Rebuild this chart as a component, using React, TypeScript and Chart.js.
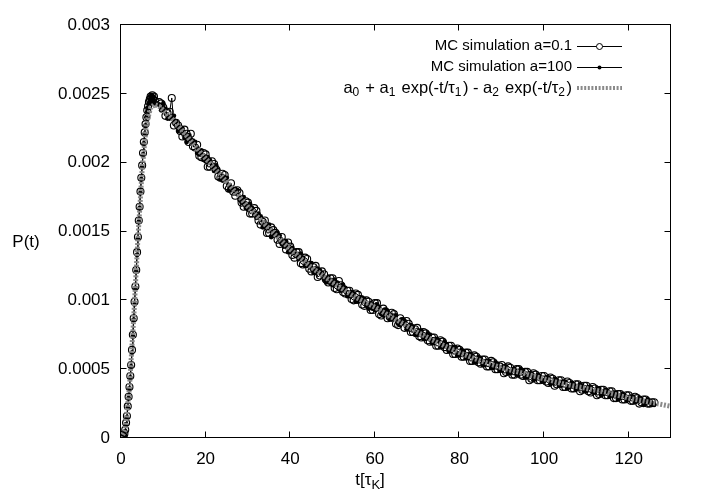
import React, { useEffect, useRef } from 'react';
import { Chart, registerables } from 'chart.js';

Chart.register(...registerables);

const FONT = "'Liberation Sans', Arial, Helvetica, sans-serif";

// time grid (t in units of tau_K)
const riseTimes = [0, 0.2, 0.4, 0.6, 0.8, 1, 1.2, 1.4, 1.6, 1.8, 2, 2.2, 2.4, 2.6, 2.8, 3, 3.2, 3.4, 3.6, 3.8, 4, 4.2, 4.4, 4.6, 4.8, 5, 5.2, 5.4, 5.6, 5.8, 6, 6.2, 6.4, 6.6, 6.8, 7, 7.2, 7.4, 7.6, 7.8, 8];
const decayTimes = [9, 10, 11, 12, 13, 14, 15, 16, 17, 18, 19, 20, 21, 22, 23, 24, 25, 26, 27, 28, 29, 30, 31, 32, 33, 34, 35, 36, 37, 38, 39, 40, 41, 42, 43, 44, 45, 46, 47, 48, 49, 50, 51, 52, 53, 54, 55, 56, 57, 58, 59, 60, 61, 62, 63, 64, 65, 66, 67, 68, 69, 70, 71, 72, 73, 74, 75, 76, 77, 78, 79, 80, 81, 82, 83, 84, 85, 86, 87, 88, 89, 90, 91, 92, 93, 94, 95, 96, 97, 98, 99, 100, 101, 102, 103, 104, 105, 106, 107, 108, 109, 110, 111, 112, 113, 114, 115, 116, 117, 118, 119, 120, 121, 122, 123, 124, 125, 126];
const decayHalfTimes = [9.5, 10.5, 11.5, 12.5, 13.5, 14.5, 15.5, 16.5, 17.5, 18.5, 19.5, 20.5, 21.5, 22.5, 23.5, 24.5, 25.5, 26.5, 27.5, 28.5, 29.5, 30.5, 31.5, 32.5, 33.5, 34.5, 35.5, 36.5, 37.5, 38.5, 39.5, 40.5, 41.5, 42.5, 43.5, 44.5, 45.5, 46.5, 47.5, 48.5, 49.5, 50.5, 51.5, 52.5, 53.5, 54.5, 55.5, 56.5, 57.5, 58.5, 59.5, 60.5, 61.5, 62.5, 63.5, 64.5, 65.5, 66.5, 67.5, 68.5, 69.5, 70.5, 71.5, 72.5, 73.5, 74.5, 75.5, 76.5, 77.5, 78.5, 79.5, 80.5, 81.5, 82.5, 83.5, 84.5, 85.5, 86.5, 87.5, 88.5, 89.5, 90.5, 91.5, 92.5, 93.5, 94.5, 95.5, 96.5, 97.5, 98.5, 99.5, 100.5, 101.5, 102.5, 103.5, 104.5, 105.5, 106.5, 107.5, 108.5, 109.5, 110.5, 111.5, 112.5, 113.5, 114.5, 115.5, 116.5, 117.5, 118.5, 119.5, 120.5, 121.5, 122.5, 123.5, 124.5, 125.5];

// MC simulation a=0.1
const a01Rise = [0, 0, 0, 0.00001, 0.00003, 0.00006, 0.00011, 0.00016, 0.00023, 0.0003, 0.00037, 0.00045, 0.00053, 0.00064, 0.00075, 0.00087, 0.00099, 0.0011, 0.00122, 0.00135, 0.00146, 0.00158, 0.00168, 0.00179, 0.00189, 0.00198, 0.00207, 0.00215, 0.00222, 0.00228, 0.00233, 0.00238, 0.00241, 0.00244, 0.00246, 0.00248, 0.00247, 0.00249, 0.00246, 0.00248, 0.00245];
const a01Decay = [
  0.00244, 0.00240, 0.00236, 0.00247, 0.00229, 0.00223, 0.00224, 0.00215, 0.00212, 0.00213,
  0.00204, 0.00206, 0.00197, 0.00199, 0.00190, 0.00192, 0.00183, 0.00185, 0.00176, 0.00178,
  0.00168, 0.00171, 0.00163, 0.00165, 0.00155, 0.00158, 0.00149, 0.00151, 0.00144, 0.00146,
  0.00137, 0.00139, 0.00131, 0.00135, 0.00126, 0.00130, 0.00121, 0.00125, 0.00118, 0.00119,
  0.00113, 0.00116, 0.00108, 0.00111, 0.00105, 0.00107, 0.00100, 0.00104, 0.00097, 0.00100,
  0.00093, 0.00098, 0.00090, 0.00094, 0.00087, 0.00091, 0.00083, 0.00087, 0.00080, 0.00083,
  0.00077, 0.00080, 0.00073, 0.00076, 0.00070, 0.00073, 0.00067, 0.00070, 0.00064, 0.00067,
  0.00061, 0.00064, 0.00059, 0.00062, 0.00056, 0.00059, 0.00054, 0.00057, 0.00052, 0.00055,
  0.00050, 0.00053, 0.00048, 0.00051, 0.00046, 0.00050, 0.00045, 0.00048, 0.00043, 0.00046,
  0.00042, 0.00045, 0.00040, 0.00043, 0.00039, 0.00042, 0.00037, 0.00040, 0.00036, 0.00039,
  0.00035, 0.00038, 0.00033, 0.00036, 0.00032, 0.00035, 0.00031, 0.00034, 0.00029, 0.00032,
  0.00028, 0.00031, 0.00027, 0.00029, 0.00026, 0.00028, 0.00025, 0.00026
];
const a01DecayHalf = [
  0.00243, 0.00234, 0.00237, 0.00227, 0.00227, 0.00219, 0.00221, 0.00221, 0.00211, 0.00205,
  0.00207, 0.00197, 0.00201, 0.00195, 0.00189, 0.00191, 0.00181, 0.00179, 0.00180, 0.00171,
  0.00172, 0.00163, 0.00167, 0.00158, 0.00157, 0.00149, 0.00153, 0.00149, 0.00141, 0.00142,
  0.00142, 0.00133, 0.00135, 0.00127, 0.00131, 0.00123, 0.00124, 0.00117, 0.00121, 0.00115,
  0.00116, 0.00109, 0.00114, 0.00106, 0.00107, 0.00101, 0.00105, 0.00101, 0.00096, 0.00099,
  0.00093, 0.00098, 0.00089, 0.00092, 0.00088, 0.00090, 0.00082, 0.00085, 0.00085, 0.00077,
  0.00079, 0.00074, 0.00077, 0.00071, 0.00073, 0.00067, 0.00071, 0.00066, 0.00067, 0.00061,
  0.00065, 0.00059, 0.00062, 0.00056, 0.00060, 0.00055, 0.00057, 0.00052, 0.00056, 0.00050,
  0.00052, 0.00047, 0.00052, 0.00046, 0.00050, 0.00046, 0.00048, 0.00042, 0.00047, 0.00042,
  0.00045, 0.00041, 0.00044, 0.00038, 0.00042, 0.00037, 0.00041, 0.00036, 0.00039, 0.00034,
  0.00038, 0.00034, 0.00037, 0.00031, 0.00035, 0.00031, 0.00034, 0.00029, 0.00032, 0.00028,
  0.00031, 0.00027, 0.00030, 0.00025, 0.00028, 0.00025, 0.00026
];

// MC simulation a=100
const a100Rise = [0, 0, 0, 0.00001, 0.00002, 0.00005, 0.0001, 0.00015, 0.00022, 0.00029, 0.00036, 0.00044, 0.00052, 0.00062, 0.00074, 0.00086, 0.00097, 0.00109, 0.00121, 0.00133, 0.00145, 0.00157, 0.00167, 0.00178, 0.00188, 0.00197, 0.00206, 0.00214, 0.00221, 0.00227, 0.00233, 0.00237, 0.00240, 0.00243, 0.00245, 0.00247, 0.00249, 0.00246, 0.00248, 0.00244, 0.00243];
const a100Decay = [
  0.00242, 0.00243, 0.00232, 0.00233, 0.00230, 0.00226, 0.00218, 0.00220, 0.00216, 0.00207,
  0.00209, 0.00201, 0.00202, 0.00194, 0.00195, 0.00187, 0.00189, 0.00180, 0.00181, 0.00173,
  0.00175, 0.00166, 0.00167, 0.00160, 0.00161, 0.00153, 0.00155, 0.00147, 0.00149, 0.00141,
  0.00143, 0.00135, 0.00136, 0.00130, 0.00131, 0.00125, 0.00127, 0.00120, 0.00122, 0.00115,
  0.00117, 0.00111, 0.00113, 0.00107, 0.00109, 0.00103, 0.00105, 0.00099, 0.00102, 0.00096,
  0.00098, 0.00093, 0.00095, 0.00089, 0.00092, 0.00086, 0.00089, 0.00082, 0.00085, 0.00079,
  0.00081, 0.00075, 0.00078, 0.00072, 0.00075, 0.00069, 0.00071, 0.00066, 0.00068, 0.00063,
  0.00066, 0.00060, 0.00063, 0.00058, 0.00060, 0.00055, 0.00058, 0.00053, 0.00056, 0.00051,
  0.00054, 0.00049, 0.00052, 0.00047, 0.00050, 0.00046, 0.00049, 0.00044, 0.00047, 0.00043,
  0.00045, 0.00041, 0.00044, 0.00040, 0.00042, 0.00038, 0.00041, 0.00037, 0.00039, 0.00036,
  0.00038, 0.00034, 0.00037, 0.00033, 0.00036, 0.00032, 0.00034, 0.00031, 0.00033, 0.00029,
  0.00031, 0.00028, 0.00030, 0.00027, 0.00028, 0.00025, 0.00027, 0.00024
];
const a100DecayHalf = [
  0.00238, 0.00239, 0.00232, 0.00234, 0.00223, 0.00225, 0.00215, 0.00217, 0.00215, 0.00206,
  0.00202, 0.00204, 0.00197, 0.00198, 0.00188, 0.00189, 0.00180, 0.00181, 0.00180, 0.00171,
  0.00167, 0.00170, 0.00162, 0.00163, 0.00153, 0.00155, 0.00146, 0.00149, 0.00147, 0.00139,
  0.00135, 0.00138, 0.00132, 0.00134, 0.00125, 0.00127, 0.00120, 0.00123, 0.00120, 0.00113,
  0.00112, 0.00115, 0.00108, 0.00111, 0.00103, 0.00106, 0.00099, 0.00102, 0.00101, 0.00094,
  0.00094, 0.00097, 0.00090, 0.00093, 0.00086, 0.00088, 0.00083, 0.00086, 0.00079, 0.00082,
  0.00075, 0.00078, 0.00072, 0.00076, 0.00069, 0.00072, 0.00066, 0.00070, 0.00063, 0.00066,
  0.00060, 0.00064, 0.00058, 0.00061, 0.00055, 0.00059, 0.00053, 0.00056, 0.00051, 0.00055,
  0.00049, 0.00052, 0.00047, 0.00050, 0.00046, 0.00050, 0.00044, 0.00047, 0.00042, 0.00046,
  0.00041, 0.00044, 0.00039, 0.00043, 0.00038, 0.00041, 0.00036, 0.00040, 0.00035, 0.00039,
  0.00034, 0.00037, 0.00033, 0.00036, 0.00031, 0.00035, 0.00030, 0.00033, 0.00028, 0.00032,
  0.00027, 0.00030, 0.00026, 0.00029, 0.00024, 0.00028, 0.00024
];

// fitted curve a0 + a1 exp(-t/tau1) - a2 exp(-t/tau2)
const fitTimes = [0, 1, 2, 3, 4, 5, 6, 7, 8, 9, 10, 12, 14, 17, 20, 25, 30, 35, 40, 45, 50, 55, 60, 65, 70, 75, 80, 85, 90, 95, 100, 105, 110, 115, 120, 125, 130];
const fitValues = [0, 0.00006, 0.00037, 0.00087, 0.00145, 0.00195, 0.00228, 0.0024, 0.00242, 0.00241, 0.00238, 0.00232, 0.00225, 0.00214, 0.00203, 0.00186, 0.00168, 0.00152, 0.00137, 0.00124, 0.00113, 0.00103, 0.00095, 0.00086, 0.00077, 0.00069, 0.00062, 0.00056, 0.00051, 0.00047, 0.00043, 0.00039, 0.00036, 0.00033, 0.00029, 0.00026, 0.00023];

const xTickValues = [0, 20, 40, 60, 80, 100, 120];
const xTickLabels = ['0', '20', '40', '60', '80', '100', '120'];
const yTickValues = [0, 0.0005, 0.001, 0.0015, 0.002, 0.0025, 0.003];
const yTickLabels = ['0', '0.0005', '0.001', '0.0015', '0.002', '0.0025', '0.003'];

type Part = { text: string; sub?: boolean };
const legendA01: Part[] = [{ text: 'MC simulation a=0.1' }];
const legendA100: Part[] = [{ text: 'MC simulation a=100' }];
const legendFit: Part[] = [
  { text: 'a' }, { text: '0', sub: true }, { text: ' + a' }, { text: '1', sub: true },
  { text: ' exp(-t/τ' }, { text: '1', sub: true }, { text: ') - a' }, { text: '2', sub: true },
  { text: ' exp(-t/τ' }, { text: '2', sub: true }, { text: ')' },
];
const xTitle: Part[] = [{ text: 't[τ' }, { text: 'K', sub: true }, { text: ']' }];
const yTitle: Part[] = [{ text: 'P(t)' }];

const TICK_FONT = 17;
const LEGEND_FONT = 15;
const FORMULA_FONT = 16.5;
const FIT_COLOR = '#8a8a8a';
const FIT_DASH = [2, 1.6];

function drawParts(ctx: CanvasRenderingContext2D, parts: Part[], x: number, y: number, align: 'left' | 'right' | 'center', size: number, subGap = 0) {
  const subSize = Math.round(size * 0.75);
  const widths = parts.map((p) => {
    ctx.font = `${p.sub ? subSize : size}px ${FONT}`;
    return ctx.measureText(p.text).width + (p.sub ? subGap : 0);
  });
  const total = widths.reduce((a, b) => a + b, 0);
  let cx = align === 'right' ? x - total : align === 'center' ? x - total / 2 : x;
  ctx.textAlign = 'left';
  ctx.textBaseline = 'middle';
  ctx.fillStyle = '#000';
  parts.forEach((p, i) => {
    ctx.font = `${p.sub ? subSize : size}px ${FONT}`;
    ctx.fillText(p.text, cx, p.sub ? y + size * 0.3 : y);
    cx += widths[i];
  });
}

const framePlugin = {
  id: 'gnuFrame',
  afterDatasetsDraw(chart: any) {
    const { ctx, chartArea } = chart;
    const { left, right, top, bottom } = chartArea;
    const xs = chart.scales.x;
    const ys = chart.scales.y;
    const L = left - 0.5, R = right - 0.5, T = top - 0.5, B = bottom - 0.5;
    ctx.save();
    ctx.strokeStyle = '#000';
    ctx.lineWidth = 1;
    ctx.setLineDash([]);
    ctx.strokeRect(L, T, R - L, B - T);
    const tl = 6;
    ctx.beginPath();
    xTickValues.forEach((v) => {
      const px = Math.round(xs.getPixelForValue(v)) - 0.5;
      ctx.moveTo(px, B); ctx.lineTo(px, B - tl);
      ctx.moveTo(px, T); ctx.lineTo(px, T + tl);
    });
    yTickValues.forEach((v) => {
      const py = Math.round(ys.getPixelForValue(v)) - 0.5;
      ctx.moveTo(L, py); ctx.lineTo(L + tl, py);
      ctx.moveTo(R, py); ctx.lineTo(R - tl, py);
    });
    ctx.stroke();

    // legend
    const textRight = 572;
    const sx0 = 577, sx1 = 622;
    const rows = [46, 67, 88];
    drawParts(ctx, legendA01, textRight, rows[0], 'right', LEGEND_FONT);
    drawParts(ctx, legendA100, textRight, rows[1], 'right', LEGEND_FONT);
    drawParts(ctx, legendFit, textRight, rows[2], 'right', FORMULA_FONT, 1.5);
    ctx.strokeStyle = '#000';
    ctx.lineWidth = 1;
    ctx.beginPath();
    ctx.moveTo(sx0, rows[0] + 0.5); ctx.lineTo(sx1, rows[0] + 0.5);
    ctx.moveTo(sx0, rows[1] + 0.5); ctx.lineTo(sx1, rows[1] + 0.5);
    ctx.stroke();
    const mid = (sx0 + sx1) / 2;
    ctx.beginPath();
    ctx.arc(mid, rows[0] + 0.5, 3, 0, Math.PI * 2);
    ctx.fillStyle = '#fff';
    ctx.fill();
    ctx.stroke();
    ctx.beginPath();
    ctx.arc(mid, rows[1] + 0.5, 2, 0, Math.PI * 2);
    ctx.fillStyle = '#000';
    ctx.fill();
    ctx.strokeStyle = FIT_COLOR;
    ctx.lineWidth = 4;
    ctx.setLineDash(FIT_DASH);
    ctx.beginPath();
    ctx.moveTo(sx0, rows[2]); ctx.lineTo(sx1, rows[2]);
    ctx.stroke();
    ctx.setLineDash([]);

    // axis titles
    drawParts(ctx, xTitle, 370, 480, 'center', TICK_FONT);
    drawParts(ctx, yTitle, 26, 242, 'center', TICK_FONT);
    ctx.restore();
  },
};

function buildSeries(times: number[][], values: number[][]) {
  const pts: { x: number; y: number }[] = [];
  times.forEach((ts, k) => ts.forEach((t, i) => pts.push({ x: t, y: values[k][i] })));
  return pts.sort((a, b) => a.x - b.x);
}

export default function App() {
  const canvasRef = useRef<HTMLCanvasElement | null>(null);

  useEffect(() => {
    if (!canvasRef.current) return;
    Chart.defaults.font.family = FONT;
    Chart.defaults.color = '#000';
    const a01 = buildSeries([riseTimes, decayTimes, decayHalfTimes], [a01Rise, a01Decay, a01DecayHalf]);
    const a100 = buildSeries([riseTimes, decayTimes, decayHalfTimes], [a100Rise, a100Decay, a100DecayHalf]);

    const chart = new Chart(canvasRef.current, {
      type: 'scatter',
      data: {
        datasets: [
          {
            label: 'a0 + a1 exp(-t/τ1) - a2 exp(-t/τ2)',
            data: fitTimes.map((t, i) => ({ x: t, y: fitValues[i] })),
            showLine: true,
            borderColor: FIT_COLOR,
            borderWidth: 5,
            borderDash: FIT_DASH,
            pointRadius: 0,
            order: 0,
          },
          {
            label: 'MC simulation a=100',
            data: a100,
            showLine: true,
            borderColor: '#000',
            borderWidth: 1.2,
            pointRadius: 2.4,
            pointBackgroundColor: '#000',
            pointBorderWidth: 0,
            order: 1,
          },
          {
            label: 'MC simulation a=0.1',
            data: a01,
            showLine: true,
            borderColor: '#000',
            borderWidth: 1,
            pointRadius: 3.5,
            pointBorderColor: '#000',
            pointBackgroundColor: 'rgba(0,0,0,0)',
            pointBorderWidth: 1.1,
            order: 2,
          },
        ],
      } as any,
      options: {
        responsive: false,
        animation: false,
        devicePixelRatio: 1,
        layout: { padding: { left: 0, right: 30, top: 25, bottom: 0 } },
        plugins: { legend: { display: false }, tooltip: { enabled: false } },
        scales: {
          x: {
            type: 'linear',
            min: 0,
            max: 130,
            grid: { display: false, drawTicks: false },
            border: { display: false },
            afterFit: (s: any) => { s.height = 53; },
            afterBuildTicks: (s: any) => { s.ticks = xTickValues.map((v) => ({ value: v })); },
            ticks: {
              padding: 11,
              color: '#000',
              font: { size: TICK_FONT, family: FONT },
              maxRotation: 0,
              autoSkip: false,
              callback: (_v: any, i: number) => xTickLabels[i],
            },
          },
          y: {
            type: 'linear',
            min: 0,
            max: 0.003,
            grid: { display: false, drawTicks: false },
            border: { display: false },
            afterFit: (s: any) => { s.width = 121; },
            afterBuildTicks: (s: any) => { s.ticks = yTickValues.map((v) => ({ value: v })); },
            ticks: {
              padding: 11,
              color: '#000',
              font: { size: TICK_FONT, family: FONT },
              autoSkip: false,
              callback: (_v: any, i: number) => yTickLabels[i],
            },
          },
        },
      } as any,
      plugins: [framePlugin],
    });
    return () => chart.destroy();
  }, []);

  return (
    <div style={{ position: 'fixed', left: 0, top: 0, width: 701, height: 491, background: '#fff' }}>
      <canvas ref={canvasRef} width={701} height={491} style={{ display: 'block' }} />
    </div>
  );
}
